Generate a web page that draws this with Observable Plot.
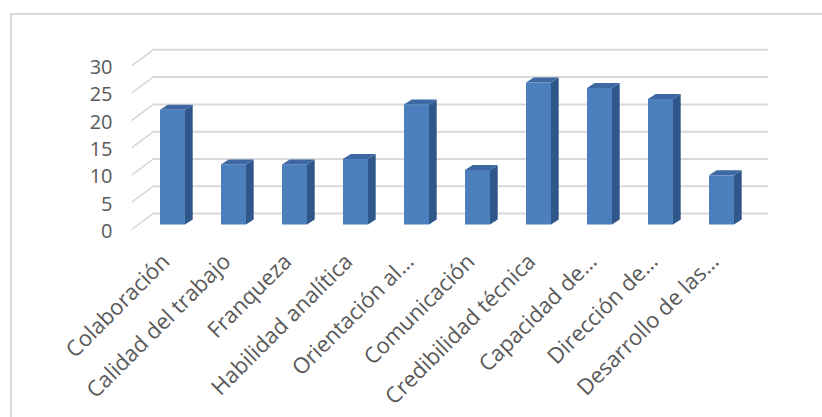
<!DOCTYPE html>
<html>
<head>
<meta charset="utf-8">
<script src="https://cdn.jsdelivr.net/npm/d3@7"></script>
<script src="https://cdn.jsdelivr.net/npm/@observablehq/plot@0.6"></script>
<style>
  html, body { margin: 0; padding: 0; background: #ffffff; overflow: hidden; }
  #frame { position: absolute; left: 10px; top: 13px; width: 900px; height: 500px; border: 2px solid #d9d9d9; box-sizing: border-box; }
  #chart { position: absolute; left: 0; top: 0; }
  g[aria-description="diag"] line { transform-box: fill-box; transform-origin: 0 0; transform: translateY(4.6px) skewY(-36.5deg); }
  g[aria-description="side"] rect { transform-box: fill-box; transform-origin: 0 0; transform: skewY(-33deg); }
  g[aria-description="top"] rect { transform-box: fill-box; transform-origin: 0 100%; transform: skewX(-57deg); }
</style>
</head>
<body>
<div id="frame"></div>
<div id="chart"></div>
<script>
const categories = [
  "Colaboración",
  "Calidad del trabajo",
  "Franqueza",
  "Habilidad analítica",
  "Orientación al…",
  "Comunicación",
  "Credibilidad técnica",
  "Capacidad de…",
  "Dirección de…",
  "Desarrollo de las…"
];
const values = [21, 11, 11, 12, 22, 10, 26, 25, 23, 9];
const yTicks = [0, 5, 10, 15, 20, 25, 30];

const data = categories.map((c, i) => ({category: c, value: values[i]}));

const chart = Plot.plot({
  width: 822,
  height: 417,
  marginLeft: 121,
  marginRight: 50,
  marginTop: 60.7,
  marginBottom: 192.5,
  x: {domain: categories, padding: 0.593, axis: null},
  y: {domain: [0, 30], axis: null},
  style: {fontFamily: "'Open Sans', sans-serif", color: "#595959", background: "transparent"},
  marks: [
    Plot.ruleY(yTicks, {stroke: "#d9d9d9", strokeWidth: 2, insetLeft: 32, insetRight: 4, dy: -11.4}),
    Plot.ruleY(yTicks, {ariaDescription: "diag", stroke: "#d9d9d9", strokeWidth: 2, insetLeft: 10.7, insetRight: 618.7}),
    Plot.text(yTicks, {y: d => d, text: d => String(d), frameAnchor: "left", textAnchor: "end", dx: -9, dy: 6.5, fontSize: 20, fill: "#595959"}),
    Plot.barY(data, {x: "category", y: "value", fill: "#4b7fbd"}),
    Plot.barY(data, {ariaDescription: "side", x: "category", y: "value", insetLeft: 25, insetRight: -7.7, fill: "#30578a"}),
    Plot.barY(data, {ariaDescription: "top", x: "category", y1: "value", y2: "value", insetTop: -5, fill: "#3d68a3"}),
    Plot.text(data, {x: "category", text: "category", frameAnchor: "bottom", rotate: -45, textAnchor: "end", lineAnchor: "bottom", dx: -2, dy: 38, fontSize: 22, fill: "#595959"})
  ]
});
document.getElementById("chart").appendChild(chart);
</script>
</body>
</html>
